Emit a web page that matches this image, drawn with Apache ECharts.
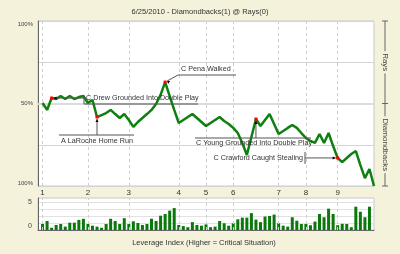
<!DOCTYPE html>
<html><head><meta charset="utf-8">
<script src="https://cdn.jsdelivr.net/npm/echarts@6/dist/echarts.min.js"></script>
<style>html,body{margin:0;padding:0;background:#f4f2db;}#c{width:400px;height:254px;}</style>
</head><body><div id="c"></div>
<script>
// ---------- data ----------
const chartTitle = '6/25/2010 - Diamondbacks(1) @ Rays(0)';
const winProb = [50.3,46.1,53.3,52.7,54.5,52.7,54.5,52.7,53.9,54.5,50.3,52.1,41.8,43.0,44.2,46.1,43.6,41.2,43.6,40.0,
  35.8,38.8,41.2,43.6,46.1,49.7,55.2,63.0,54.5,46.1,38.2,40.0,41.8,43.6,41.2,38.8,36.4,38.2,40.0,41.8,
  39.4,37.6,35.2,32.1,26.1,18.8,29.7,40.6,36.4,40.0,43.6,37.6,31.5,33.3,35.2,37.0,35.2,32.1,29.1,27.3,
  26.1,31.5,26.1,32.1,24.2,17.0,14.5,17.0,19.4,21.2,12.7,4.8,10.3,0];
const leverage = [1.07,1.6,0.4,0.9,1.07,0.6,1.3,1.3,1.8,2.0,1.07,0.77,0.6,0.4,1.07,2.0,1.6,1.07,2.1,1.07,
  1.55,1.25,0.9,1.07,2.0,1.6,2.55,2.85,3.45,3.9,0.9,0.7,0.5,1.4,0.9,0.77,1.0,0.5,0.6,1.6,
  1.2,0.77,1.2,1.9,2.2,2.2,3.0,1.85,1.4,2.4,2.5,2.75,1.2,0.77,0.6,2.27,1.65,1.07,1.07,0.85,
  1.5,2.85,2.27,3.8,2.85,0.85,1.1,1.07,0.5,4.15,3.25,2.27,4.15];
const inningStarts = [0,10,19,30,36,42,52,58,65];
const inningLabels = ['1','2','3','4','5','6','7','8','9'];
const keyPlays = [2,12,27,47,65];
const keyLabels = ['C Drew Grounded Into Double Play','A LaRoche Home Run','C Pena Walked',
  'C Young Grounded Into Double Play','C Crawford Caught Stealing'];
const yTickLabels = {0:'100%',50:'50%',100:'100%'};
const levTickLabels = {0:'0',5:'5'};
const teamLabels = ['Rays','Diamondbacks'];
const leverageTitle = 'Leverage Index (Higher = Critical Situation)';

// ---------- chart ----------
(function(){
const FONT = '"Liberation Sans", Arial, sans-serif';
const BG = '#f4f2db';
const lineData = winProb.map((v,i)=> keyPlays.indexOf(i)>=0
  ? {value:[i,v], symbol:'rect', symbolSize:3, itemStyle:{color:'#ff0000', borderWidth:0}}
  : {value:[i,v], symbol:'none'});
const levData = leverage.map((v,i)=>[i,v]);
const innLines = inningStarts.map((v,k)=>({xAxis:v, name:inningLabels[k]}));

const chart = echarts.init(document.getElementById('c'), null, {renderer:'canvas'});
const option = {
  backgroundColor: BG,
  animation: false,
  textStyle:{fontFamily:FONT},
  title:{text:chartTitle, left:'center', top:3, textStyle:{fontSize:7.5, fontWeight:'normal', color:'#333', fontFamily:FONT}},
  grid:[
    {left:38, top:21, width:336, height:165, show:true, backgroundColor:'#fff', borderColor:'#c8c8c8', borderWidth:1},
    {left:38, top:198, width:336, height:32, show:true, backgroundColor:'#fff', borderColor:'#c8c8c8', borderWidth:1}
  ],
  xAxis:[
    {gridIndex:0, type:'value', min:-1, max:73, axisLine:{show:false}, axisTick:{show:false}, axisLabel:{show:false}, splitLine:{show:false}},
    {gridIndex:1, type:'value', min:-1, max:73, axisLine:{show:true, onZero:false, lineStyle:{color:'#666'}}, axisTick:{show:false}, axisLabel:{show:false}, splitLine:{show:false}}
  ],
  yAxis:[
    {gridIndex:0, type:'value', min:0, max:100, interval:25,
      axisLine:{show:true, onZero:false, lineStyle:{color:'#666'}}, axisTick:{show:false},
      axisLabel:{fontSize:6, color:'#444', margin:5, verticalAlignMaxLabel:'top', verticalAlignMinLabel:'bottom',
        formatter:v=> yTickLabels[v] !== undefined ? yTickLabels[v] : ''},
      splitLine:{show:true, lineStyle:{color:'#d4d4d4', width:1}}},
    {gridIndex:1, type:'value', min:0, max:5.7, interval:1.25,
      axisLine:{show:true, onZero:false, lineStyle:{color:'#666'}}, axisTick:{show:false},
      axisLabel:{fontSize:7, color:'#444', margin:6, verticalAlignMinLabel:'bottom',
        formatter:v=> levTickLabels[v] !== undefined ? levTickLabels[v] : ''},
      splitLine:{show:true, lineStyle:{color:'#e2e2e2', width:1}}}
  ],
  series:[
    {type:'line', xAxisIndex:0, yAxisIndex:0, data:lineData, showSymbol:true, z:5,
      lineStyle:{color:'#0f7f0f', width:2.5}, itemStyle:{color:'#0f7f0f'},
      markLine:{silent:true, symbol:'none', animation:false,
        label:{show:true, position:'start', formatter:'{b}', fontSize:8, color:'#333', distance:3},
        lineStyle:{type:[3,3], color:'#cfcfcf', width:1},
        data: innLines.concat([{yAxis:50, name:'', label:{show:false}, lineStyle:{type:'solid', color:'#dcdcdc', width:2}}])}
    },
    {type:'bar', xAxisIndex:1, yAxisIndex:1, data:levData, barWidth:3, itemStyle:{color:'#0a780a'},
      markLine:{silent:true, symbol:'none', animation:false, label:{show:false},
        lineStyle:{type:[3,3], color:'#cfcfcf', width:1}, data: innLines}
    }
  ]
};
chart.setOption(option);

// ---------- annotations (layout) ----------
function P(i){ return chart.convertToPixel({seriesIndex:0}, [i, winProb[i]]); }
const LC = '#555';
const g = [];
function line(x1,y1,x2,y2,c){ g.push({type:'line', z:10, shape:{x1,y1,x2,y2}, style:{stroke:c||LC, lineWidth:1}}); }
function txt(s,x,y,align,size,rot){ g.push({type:'text', z:11, x, y, rotation:rot||0,
  style:{text:s, x:0, y:0, fill:'#333', font:(size||7.2)+'px '+FONT, align:align||'left', verticalAlign:'middle'}}); }
function arrow(x,y,dir){
  let pts;
  if(dir==='left') pts=[[x,y],[x+3,y-1.5],[x+3,y+1.5]];
  else if(dir==='right') pts=[[x,y],[x-3,y-1.5],[x-3,y+1.5]];
  else if(dir==='up') pts=[[x,y],[x-1.5,y+3],[x+1.5,y+3]];
  else pts=[[x,y],[x+3,y],[x+1,y+3]];
  g.push({type:'polygon', z:12, shape:{points:pts}, style:{fill:'#000'}});
}
let p = P(keyPlays[0]);
line(p[0]+3,p[1],84,p[1]); line(84,p[1]-3,84,104); line(84,104,198,104);
arrow(p[0]+2,p[1],'left'); txt(keyLabels[0],86,98);
p = P(keyPlays[1]);
line(p[0],p[1]+2,p[0],135); line(59,135,134,135); arrow(p[0],p[1]+2,'up'); txt(keyLabels[1],97,141,'center');
p = P(keyPlays[2]);
line(p[0]+2,p[1]-1,178,75); line(178,75,236,75); arrow(p[0]+2,p[1]-1,'diag'); txt(keyLabels[2],181,69);
p = P(keyPlays[3]);
line(p[0],p[1]+2,p[0],138); line(195,138,311,138); arrow(p[0],p[1]+2,'up'); txt(keyLabels[3],196,143);
p = P(keyPlays[4]);
line(305,p[1],p[0]-2,p[1]); line(305,p[1]-6,305,p[1]+6); arrow(p[0]-2,p[1],'right'); txt(keyLabels[4],303,p[1],'right');
const yTop = chart.convertToPixel({yAxisIndex:0}, 100), yMid = chart.convertToPixel({yAxisIndex:0}, 50), yBot = chart.convertToPixel({yAxisIndex:0}, 0);
line(385,yTop,385,yBot,'#666'); line(382,yTop,388,yTop,'#666'); line(382,yMid,388,yMid,'#666'); line(382,yBot,388,yBot,'#666');
g.push({type:'text', z:12, x:385, y:(yTop+yMid)/2, rotation:-Math.PI/2,
  style:{text:teamLabels[0], x:0, y:0, fill:'#444', font:'8px '+FONT, align:'center', verticalAlign:'middle', backgroundColor:BG, padding:[0,2]}});
g.push({type:'text', z:12, x:385, y:(yMid+yBot)/2, rotation:-Math.PI/2,
  style:{text:teamLabels[1], x:0, y:0, fill:'#444', font:'8px '+FONT, align:'center', verticalAlign:'middle', backgroundColor:BG, padding:[0,2]}});
txt(leverageTitle, 204, 243, 'center', 7.5);
chart.setOption({graphic:{elements:g}});
})();
</script>
</body></html>
